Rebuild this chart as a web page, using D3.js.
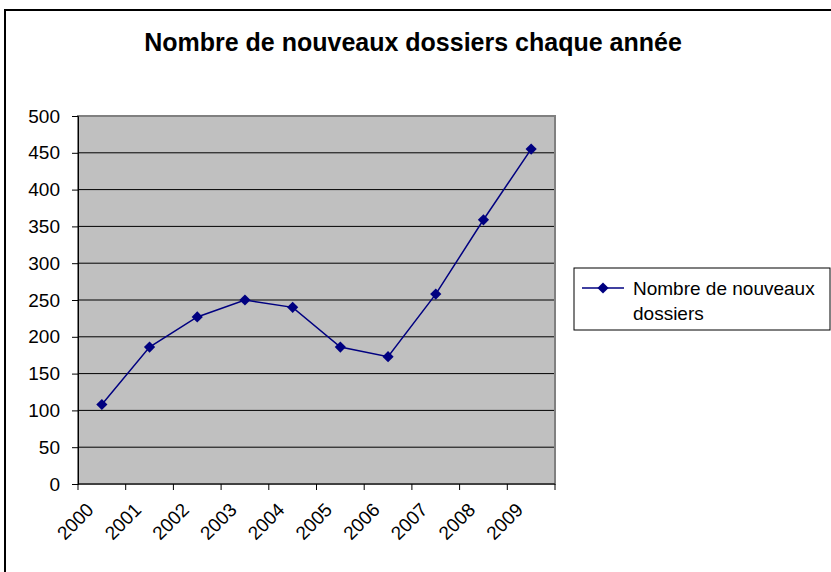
<!DOCTYPE html>
<html>
<head>
<meta charset="utf-8">
<script src="https://cdn.jsdelivr.net/npm/d3@7"></script>
<style>
  body { margin: 0; background: #fff; }
  text { font-family: "Liberation Sans", Arial, sans-serif; }
</style>
</head>
<body>
<div id="chart"></div>
<script>
// data
const years = ["2000", "2001", "2002", "2003", "2004", "2005", "2006", "2007", "2008", "2009"];
const dossiers = [108, 186, 227, 250, 240, 186, 173, 258, 359, 455];
const yTicks = [0, 50, 100, 150, 200, 250, 300, 350, 400, 450, 500];
const seriesName = "Nombre de nouveaux dossiers";

const width = 831, height = 572;
const plot = {left: 78, right: 555, top: 116, bottom: 484};
const fontSize = '19px';

const svg = d3.select('#chart').append('svg')
    .attr('width', width)
    .attr('height', height);

// outer frame (runs off the right / bottom of the picture)
svg.append('rect')
    .attr('x', 5).attr('y', 10)
    .attr('width', 840).attr('height', 600)
    .attr('fill', 'white')
    .attr('stroke', '#000')
    .attr('stroke-width', 2);

svg.append('text')
    .attr('x', 413).attr('y', 51)
    .attr('text-anchor', 'middle')
    .style('font-size', '25px')
    .style('font-weight', 'bold')
    .text('Nombre de nouveaux dossiers chaque année');

const xScale = d3.scaleBand()
    .domain(years)
    .range([plot.left, plot.right]);

const yScale = d3.scaleLinear()
    .domain([0, 500])
    .range([plot.bottom, plot.top]);

// plot background
svg.append('rect')
    .attr('x', plot.left).attr('y', plot.top)
    .attr('width', plot.right - plot.left)
    .attr('height', plot.bottom - plot.top)
    .attr('fill', '#c0c0c0');

// gridlines
svg.append('g').selectAll('line')
    .data(yTicks.slice(1))
    .enter().append('line')
    .attr('x1', plot.left).attr('x2', plot.right)
    .attr('y1', d => yScale(d)).attr('y2', d => yScale(d))
    .attr('stroke', '#000')
    .attr('stroke-width', 1);

// plot border (grey)
svg.append('rect')
    .attr('x', plot.left).attr('y', plot.top)
    .attr('width', plot.right - plot.left)
    .attr('height', plot.bottom - plot.top)
    .attr('fill', 'none')
    .attr('stroke', '#808080')
    .attr('stroke-width', 2);

// y axis
const yAxis = d3.axisLeft(yScale)
    .tickValues(yTicks)
    .tickSize(6)
    .tickPadding(12);

const gy = svg.append('g')
    .attr('transform', `translate(${plot.left},0)`)
    .call(yAxis);
gy.select('.domain').attr('stroke', '#000').attr('stroke-width', 1);
gy.selectAll('.tick line').attr('stroke', '#000');
gy.selectAll('text').style('font-size', fontSize).attr('fill', '#000')
    .style('font-family', '"Liberation Sans", Arial, sans-serif');

// x axis: ticks on the band boundaries
const xAxisG = svg.append('g');
xAxisG.append('line')
    .attr('x1', plot.left).attr('x2', plot.right)
    .attr('y1', plot.bottom).attr('y2', plot.bottom)
    .attr('stroke', '#000');
xAxisG.selectAll('.xtick')
    .data(years.concat(['end']))
    .enter().append('line')
    .attr('class', 'xtick')
    .attr('x1', (d, i) => plot.left + i * xScale.step())
    .attr('x2', (d, i) => plot.left + i * xScale.step())
    .attr('y1', plot.bottom).attr('y2', plot.bottom + 6)
    .attr('stroke', '#000');

xAxisG.selectAll('.xlabel')
    .data(years)
    .enter().append('text')
    .attr('class', 'xlabel')
    .attr('text-anchor', 'end')
    .style('font-size', fontSize)
    .attr('transform', d => `translate(${xScale(d) + xScale.bandwidth() / 2 - 7},${plot.bottom + 27}) rotate(-45)`)
    .text(d => d);

// series line
const line = d3.line()
    .x((d, i) => xScale(years[i]) + xScale.bandwidth() / 2)
    .y(d => yScale(d));

svg.append('path')
    .datum(dossiers)
    .attr('fill', 'none')
    .attr('stroke', '#000080')
    .attr('stroke-width', 1.5)
    .attr('d', line);

const diamond = d3.symbol().type(d3.symbolDiamond2).size(80);

svg.append('g').selectAll('path')
    .data(dossiers)
    .enter().append('path')
    .attr('d', diamond)
    .attr('fill', '#000080')
    .attr('transform', (d, i) => `translate(${xScale(years[i]) + xScale.bandwidth() / 2},${yScale(d)})`);

// legend
const legend = svg.append('g');
legend.append('rect')
    .attr('x', 574).attr('y', 268)
    .attr('width', 256).attr('height', 62)
    .attr('fill', 'white')
    .attr('stroke', '#000')
    .attr('stroke-width', 1);
legend.append('line')
    .attr('x1', 582).attr('x2', 624)
    .attr('y1', 288).attr('y2', 288)
    .attr('stroke', '#000080')
    .attr('stroke-width', 1.5);
legend.append('path')
    .attr('d', diamond)
    .attr('fill', '#000080')
    .attr('transform', 'translate(603,288)');
const words = seriesName.split(' ');
legend.append('text')
    .attr('x', 633).attr('y', 295)
    .style('font-size', fontSize)
    .text(words.slice(0, 3).join(' '));
legend.append('text')
    .attr('x', 633).attr('y', 320)
    .style('font-size', fontSize)
    .text(words.slice(3).join(' '));
</script>
</body>
</html>
